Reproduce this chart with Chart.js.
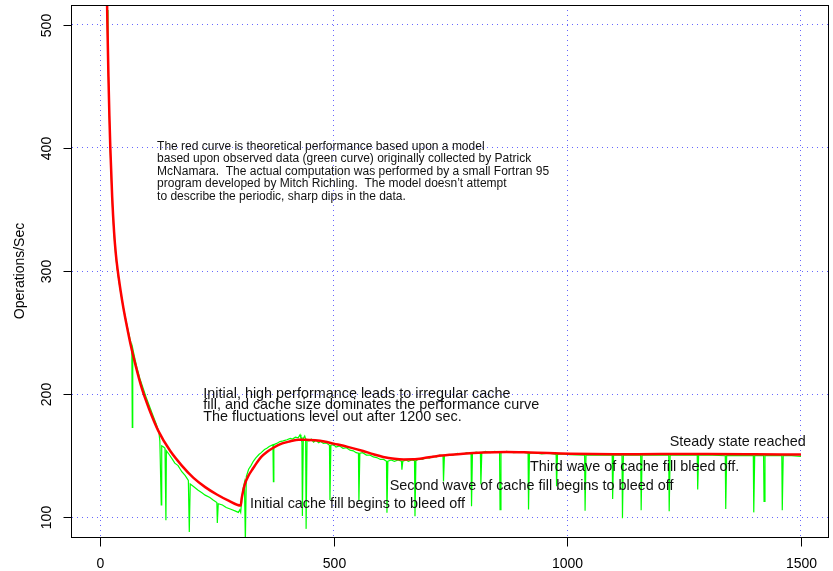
<!DOCTYPE html>
<html><head><meta charset="utf-8">
<script src="https://cdn.jsdelivr.net/npm/chart.js@4.4.0/dist/chart.umd.min.js"></script>
<style>html,body{margin:0;padding:0;background:#fff;}#wrap{width:833px;height:571px;}</style>
</head><body><div id="wrap"><canvas id="c" width="833" height="571"></canvas></div>
<script>
// ---- model (red) curve ----
const redX = [10,12,14,16,18,20,22,26,30,34,38,44,50,57,65,75,90,105,125,150,175,200,225,250,275,301,
  303,306,310,318,328,335,345,357,371,390,407,425,440,460,480,500,530,563,585,606,630,650,670,700,720,750,777,820,870,920,1006,1100,1200,1300,1400,1500];
const redY = [645,590,540,496,458,426,400,360,332,313,300,284,270,256,241,225,204,188,170,154,142,132,124.5,118.5,113.5,109.5,
  115,121,127,134,140,144,149,153,156.5,160,161.7,163,163,162.5,161.5,159.8,157.2,153.8,151.2,149,147.5,147,147.1,148.5,149.6,150.8,151.7,152.6,153,152.6,151.6,151.2,151.3,151.3,151.2,151];

// ---- observed (green) data ----
const greenX = [12,13,15,17,20,22,26,30,34,38,44,50,57,64,68,69,70,75,80,85,92,100,105,112,120,126,128,131,132,136,139,141,142,148,155,160,167,175,182,189,191,193,200,210,218,225,235,242,250,251,253,262,270,280,290,296,299,301,
  303,306,309,311,313,318,323,328,333,340,345,352,357,362,370,371,372,378,385,392,400,407,412,418,424,428,430,432,433,435,438,440,441,443,447,452,457,462,468,472,478,484,491,492,494,500,505,512,520,527,535,542,548,553,554,556,562,570,578,585,592,600,607,613,614,616,623,630,638,645,646,648,655,660,667,673,674,676,683,690,698,705,712,720,727,734,735,737,745,755,765,775,785,794,795,797,805,814,815,817,825,835,845,855,856,858,870,885,900,916,917,919,930,945,960,976,977,979,990,1005,
  1037,1038,1040,1070,1096,1097,1099,1117,1118,1120,1140,1157,1158,1160,1190,1217,1218,1220,1250,1278,1279,1281,1310,1338,1339,1341,1370,1398,1399,1401,1420,1421,1423,1440,1459,1460,1462,1480,1500];
const greenY = [585,560,512,474,424,397,357,329,311,298,283,270,257,245,239,173,237,228,220,213,205,196,191,184,176,169,162,110,158,157,156,97.6,154,151,147,144,142,137,134,130,88,127,125,122,120,118,116,114,112,95.4,111,110,108,106.5,105,104,106,104,
  113,123,128,80,133,139,142,145.5,148,151,152.5,155,156,157.5,159,129,159,160,161.5,162,163,164,163.5,165,164.5,167,164,164.5,101,164,166,163.5,90.6,163,162,163.5,161,162.5,160.5,161.5,160,160.5,158.5,114,158.5,159,157,158,156,156.5,154.5,154,152.5,152,113,152,152.5,150.5,150.5,149,148.5,147,147,145.5,103.6,145.5,146.5,145.5,146.5,145.5,138.7,145.5,146.5,145.5,146.5,146,100.8,146,147.5,147,148.5,148,149.5,149,150.5,150,129,150,151,150.5,152,151,152.5,151.5,109,152,153,152,126.6,152.5,153.5,152.5,153.5,152.5,106.3,152.5,153.5,152.5,153,152,106.3,152,152.5,151.5,152,151,125.2,151,151.5,150.8,
  150.5,105.4,150.5,150.5,150.5,114.9,150.5,150.5,99.2,150.5,150.5,150.5,105.7,150.5,150.5,150.5,104.9,150.5,150.5,150.5,122.5,150.5,150.5,150,106.8,150,150,150,104,150,150,113,150,150,150,105.7,150,150,149.5];

// ---- axes ----
const xTicks = [0,500,1000,1500];
const yTicks = [100,200,300,400,500];
const xLimits = [-60,1560];
const yLimits = [84,516];
const yTitle = 'Operations/Sec';

// ---- annotation texts ----
const noteModel = [
  'The red curve is theoretical performance based upon a model',
  'based upon observed data (green curve) originally collected by Patrick',
  'McNamara.  The actual computation was performed by a small Fortran 95',
  'program developed by Mitch Richling.  The model doesn\u2019t attempt',
  'to describe the periodic, sharp dips in the data.'
];
const noteInitial = [
  'Initial, high performance leads to irregular cache',
  'fill, and cache size dominates the performance curve',
  'The fluctuations level out after 1200 sec.'
];
const noteFirst = ['Initial cache fill begins to bleed off'];
const noteSecond = ['Second wave of cache fill begins to bleed off'];
const noteThird = ['Third wave of cache fill bleed off.'];
const noteSteady = ['Steady state reached'];

const FONT = '"Liberation Sans", Arial, Helvetica, sans-serif';
const annotations = [
  {lines: noteModel,   x: 122,  y: 401, size: 12,   lh: 12.5},
  {lines: noteInitial, x: 221,  y: 200.5, size: 14.4, lh: 11.7},
  {lines: noteFirst,   x: 321,  y: 111, size: 14.4, lh: 12},
  {lines: noteSecond,  x: 620,  y: 125.7, size: 14.4, lh: 12},
  {lines: noteThird,   x: 920,  y: 141, size: 14.4, lh: 12},
  {lines: noteSteady,  x: 1219, y: 161, size: 14.4, lh: 12}
];

const framePlugin = {
  id: 'frame',
  afterDraw(chart) {
    const ctx = chart.ctx, a = chart.chartArea;
    const xs = chart.scales.x, ys = chart.scales.y;
    ctx.save();
    ctx.strokeStyle = '#000';
    ctx.lineWidth = 1;
    const L = Math.round(a.left) - 0.5, R = Math.round(a.right) - 0.5;
    const T = Math.round(a.top) + 0.5, B = Math.round(a.bottom) + 0.5;
    ctx.strokeRect(L, T, R - L, B - T);
    ctx.fillStyle = '#000';
    ctx.font = '14px ' + FONT;
    ctx.textAlign = 'center'; ctx.textBaseline = 'middle';
    xTicks.forEach(v => {
      const px = Math.round(xs.getPixelForValue(v)) + 0.5;
      ctx.beginPath(); ctx.moveTo(px, B); ctx.lineTo(px, B + 9); ctx.stroke();
      ctx.fillText(String(v), px, 564);
    });
    yTicks.forEach(v => {
      const py = Math.round(ys.getPixelForValue(v)) + 0.5;
      ctx.beginPath(); ctx.moveTo(L - 8, py); ctx.lineTo(L, py); ctx.stroke();
      ctx.save(); ctx.translate(47, py); ctx.rotate(-Math.PI / 2);
      ctx.fillText(String(v), 0, 0); ctx.restore();
    });
    ctx.save(); ctx.translate(20, (a.top + a.bottom) / 2); ctx.rotate(-Math.PI / 2);
    ctx.fillText(yTitle, 0, 0); ctx.restore();
    ctx.fillStyle = '#111';
    ctx.textAlign = 'left'; ctx.textBaseline = 'middle';
    annotations.forEach(n => {
      ctx.font = n.size + 'px ' + FONT;
      const px = xs.getPixelForValue(n.x), py = ys.getPixelForValue(n.y);
      n.lines.forEach((t, i) => ctx.fillText(t, px, py + i * n.lh));
    });
    ctx.restore();
  }
};

const gridOpts = {color: 'rgba(0,0,255,0.6)', lineWidth: 1, drawTicks: false};
new Chart(document.getElementById('c'), {
  type: 'line',
  data: {
    datasets: [
      {label: 'model', data: redX.map((x, i) => ({x, y: redY[i]})), borderColor: '#ff0000', borderWidth: 2.5,
       pointRadius: 0, cubicInterpolationMode: 'monotone', fill: false, clip: 0},
      {label: 'observed', data: greenX.map((x, i) => ({x, y: greenY[i]})), borderColor: '#00ff00', borderWidth: 1.2,
       pointRadius: 0, tension: 0, fill: false, clip: 0}
    ]
  },
  options: {
    responsive: false, animation: false, events: [],
    layout: {padding: {left: 72, top: 5, right: 4, bottom: 34}},
    plugins: {legend: {display: false}, tooltip: {enabled: false}},
    scales: {
      x: {type: 'linear', min: xLimits[0], max: xLimits[1],
          afterBuildTicks: s => { s.ticks = xTicks.map(v => ({value: v})); },
          ticks: {display: false}, grid: gridOpts, border: {display: false, dash: [1, 4]}},
      y: {type: 'linear', min: yLimits[0], max: yLimits[1],
          afterBuildTicks: s => { s.ticks = yTicks.map(v => ({value: v})); },
          ticks: {display: false}, grid: gridOpts, border: {display: false, dash: [1, 4]}}
    }
  },
  plugins: [framePlugin]
});
</script></body></html>
